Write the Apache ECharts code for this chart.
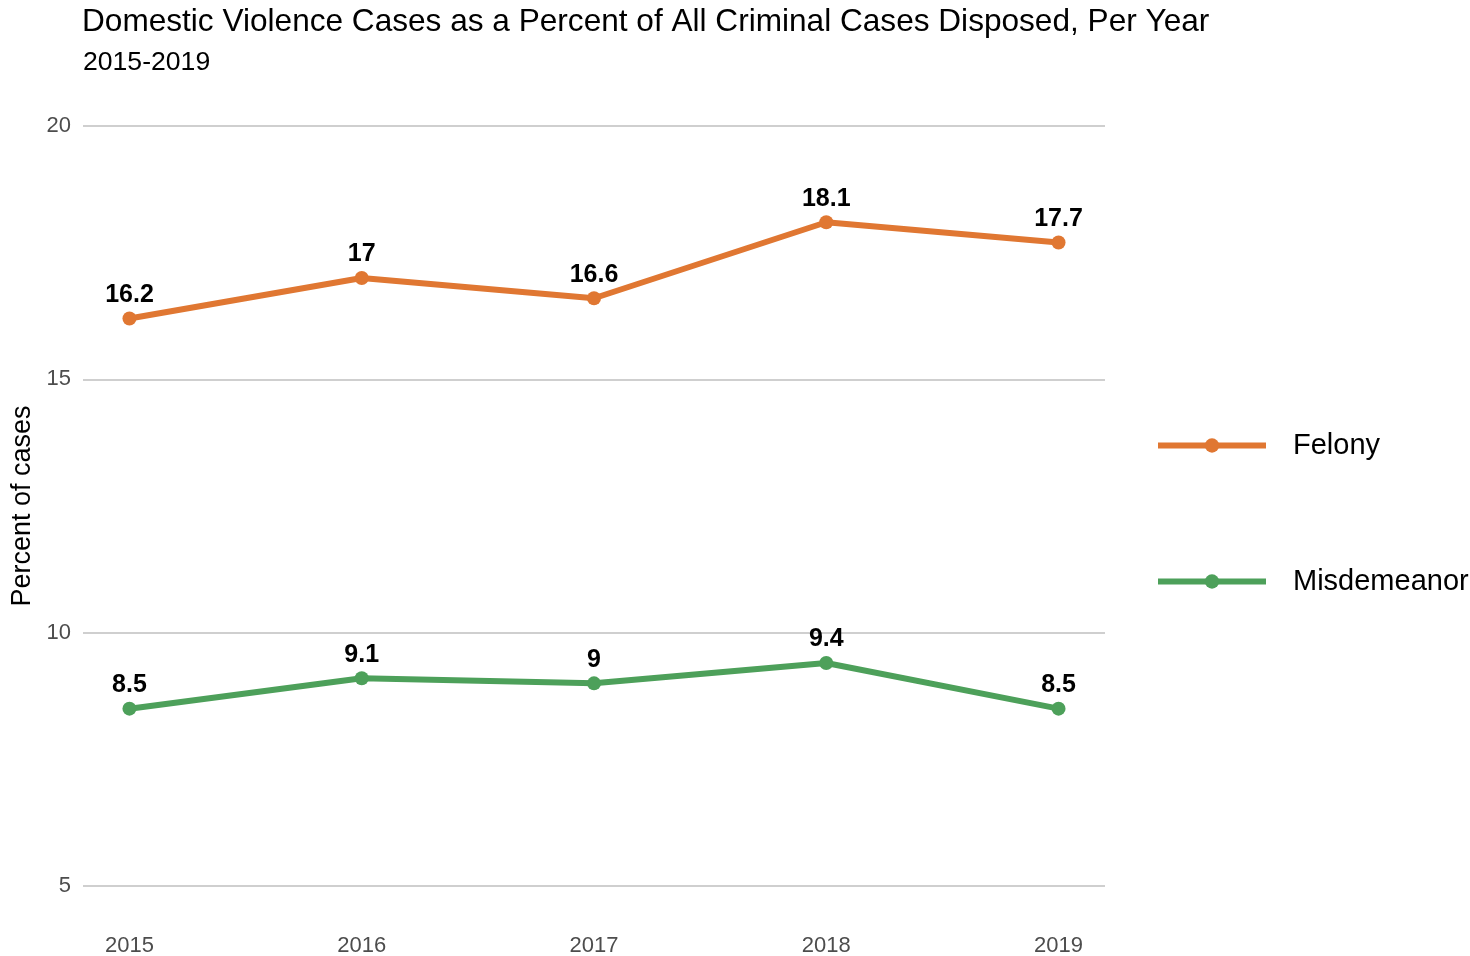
<!DOCTYPE html>
<html>
<head>
<meta charset="utf-8">
<script src="https://cdn.jsdelivr.net/npm/echarts@6/dist/echarts.min.js"></script>
<style>html,body{margin:0;padding:0;background:#fff;}#c{width:1470px;height:956px;}</style>
</head>
<body>
<div id="c"></div>
<script>
const years = [2015, 2016, 2017, 2018, 2019];
const felony = [16.2, 17, 16.6, 18.1, 17.7];
const misdemeanor = [8.5, 9.1, 9, 9.4, 8.5];
const yTicks = [5, 10, 15, 20];

const FONT = '"Liberation Sans", Arial, sans-serif';
const chart = echarts.init(document.getElementById('c'));
function pairs(vals){ return years.map((y,i)=>[y, vals[i]]); }
function mk(name, vals, color){
  return {
    name: name, type: 'line', data: pairs(vals),
    symbol: 'circle', symbolSize: 14,
    lineStyle: {width: 6, color: color},
    itemStyle: {color: color},
    label: {show: true, position: 'top', distance: 4, color: '#000', fontFamily: FONT, fontWeight: 'bold', fontSize: 25},
    emphasis: {disabled: true}, animation: false
  };
}
chart.setOption({
  animation: false,
  textStyle: {fontFamily: FONT},
  title: [
    {text: 'Domestic Violence Cases as a Percent of All Criminal Cases Disposed, Per Year', left: 77, top: 1,
     textStyle: {fontFamily: FONT, fontSize: 31.6, fontWeight: 'normal', color: '#000'}},
    {text: '2015-2019', left: 78, top: 44,
     textStyle: {fontFamily: FONT, fontSize: 26.6, fontWeight: 'normal', color: '#000'}}
  ],
  legend: {
    orient: 'vertical', left: 1150, top: 426, itemWidth: 108, itemHeight: 18, itemGap: 107,
    lineStyle: {width: 6},
    textStyle: {fontFamily: FONT, fontSize: 29, color: '#000', padding: [0,0,0,22]},
    data: ['Felony', 'Misdemeanor']
  },
  grid: {left: 83, right: 365, top: 126, bottom: 70, containLabel: false, outerBoundsMode: 'none'},
  xAxis: {
    type: 'value', min: 2014.8, max: 2019.2,
    axisLine: {show: false}, axisTick: {show: false}, splitLine: {show: false},
    axisLabel: {customValues: years, margin: 49, fontSize: 22, color: '#4d4d4d', fontFamily: FONT,
      formatter: v => String(v)}
  },
  yAxis: {
    type: 'value', min: 5, max: 20, interval: 5,
    name: 'Percent of cases', nameLocation: 'middle', nameRotate: 90, nameGap: 41,
    nameTextStyle: {fontFamily: FONT, fontSize: 27, color: '#000'},
    axisLine: {show: false}, axisTick: {show: false},
    axisLabel: {margin: 12, fontSize: 22, color: '#4d4d4d', fontFamily: FONT, customValues: yTicks},
    splitLine: {show: true, lineStyle: {color: '#cfcfcf', width: 2}}
  },
  series: [mk('Felony', felony, '#E07732'), mk('Misdemeanor', misdemeanor, '#4DA05A')]
});
</script>
</body>
</html>
